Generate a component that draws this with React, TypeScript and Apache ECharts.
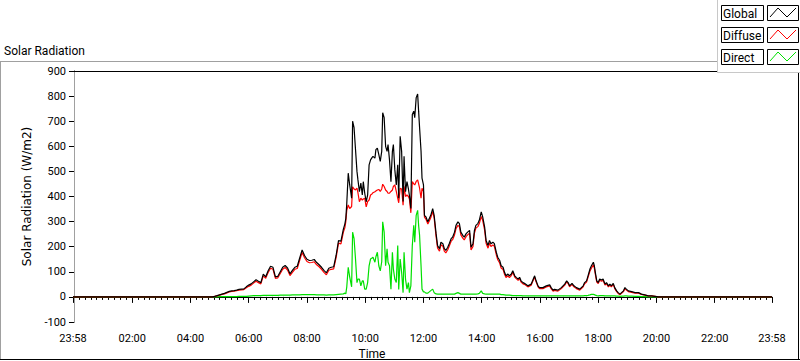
import React, { useEffect, useRef } from "react";
import * as echarts from "echarts";

// ---- data ----
const times = [
  "04:40","04:45","04:50","04:55","05:00","05:05","05:10","05:15","05:20","05:25",
  "05:30","05:35","05:40","05:45","05:50","05:55","06:00","06:05","06:10","06:15",
  "06:20","06:25","06:30","06:35","06:40","06:45","06:50","06:55","07:00","07:05",
  "07:10","07:15","07:20","07:25","07:30","07:35","07:40","07:45","07:50","07:55",
  "08:00","08:05","08:10","08:15","08:20","08:25","08:30","08:35","08:40","08:45",
  "08:50","08:55","09:00","09:05","09:10","09:15","09:18","09:20","09:22","09:25",
  "09:28","09:32","09:34","09:37","09:40","09:43","09:45","09:48","09:51","09:54",
  "09:56","09:59","10:02","10:05","10:08","10:11","10:14","10:16","10:20","10:22",
  "10:25","10:28","10:31","10:34","10:36","10:39","10:42","10:45","10:47","10:50",
  "10:53","10:56","10:58","11:01","11:04","11:07","11:09","11:12","11:15","11:18",
  "11:20","11:23","11:26","11:29","11:31","11:34","11:37","11:40","11:42","11:45",
  "11:48","11:50","11:52","11:55","11:57","12:00","12:02","12:05","12:09","12:12",
  "12:15","12:19","12:22","12:26","12:29","12:33","12:36","12:40","12:43","12:46",
  "12:50","12:53","12:57","13:00","13:04","13:07","13:11","13:14","13:17","13:21",
  "13:24","13:28","13:31","13:35","13:38","13:42","13:45","13:48","13:52","13:55",
  "13:59","14:02","14:06","14:09","14:13","14:16","14:19","14:23","14:26","14:30",
  "14:33","14:37","14:40","14:44","14:47","14:50","14:54","14:57","15:01","15:04",
  "15:08","15:11","15:15","15:18","15:21","15:25","15:28","15:35","15:42","15:49",
  "15:52","15:56","15:59","16:06","16:13","16:20","16:23","16:27","16:30","16:37",
  "16:44","16:51","16:55","16:58","17:01","17:06","17:10","17:15","17:22","17:29",
  "17:32","17:36","17:39","17:43","17:46","17:50","17:52","17:54","17:57","18:00",
  "18:03","18:07","18:10","18:14","18:17","18:21","18:24","18:27","18:31","18:34",
  "18:38","18:41","18:45","18:48","18:52","18:55","18:58","19:02","19:09","19:16",
  "19:23","19:29","19:36","19:43","19:50","19:57","20:04"
];

const globalVals = [
  0,0,2,5,8,11,14,18,22,24,
  25,27,30,31,32,40,47,52,60,68,
  62,57,91,80,104,122,118,80,82,100,
  118,125,115,92,106,118,122,155,187,165,
  150,145,146,149,137,128,118,106,96,114,
  118,120,165,224,222,270,290,312,372,493,
  446,393,700,674,587,500,466,419,453,406,
  459,413,379,406,526,546,555,560,553,587,
  593,567,540,580,734,714,600,580,607,546,
  459,580,607,506,446,526,393,640,580,380,
  560,419,459,430,405,352,727,740,714,794,
  808,740,674,580,473,446,325,319,299,312,
  325,352,325,252,205,192,218,212,192,185,
  198,212,232,238,258,285,299,292,258,245,
  238,252,258,265,198,212,265,285,292,305,
  339,319,278,225,205,225,212,218,212,178,
  158,145,124,118,98,84,91,84,91,104,
  84,78,71,78,64,57,54,44,51,84,
  64,44,37,37,44,48,37,27,30,27,
  37,51,64,57,44,54,44,37,31,44,
  57,64,84,111,124,138,124,98,64,57,
  71,67,71,51,57,44,51,44,54,37,
  24,17,11,17,24,37,31,24,21,17,
  17,11,8,4,4,2,0
];

const diffuseVals = [
  0,0,2,4,7,10,12,16,20,22,
  23,25,27,28,29,36,42,47,55,62,
  57,52,84,74,97,114,110,74,76,93,
  110,117,107,85,98,110,113,146,177,156,
  141,136,137,140,128,120,110,98,88,106,
  110,112,156,214,211,258,275,300,345,366,
  352,360,439,430,426,433,415,379,393,386,
  390,393,359,380,386,406,410,415,419,422,
  426,428,420,430,449,440,426,420,413,413,
  420,426,440,446,420,393,375,433,430,365,
  440,400,406,400,390,335,459,450,446,460,
  466,450,433,393,433,420,318,310,290,302,
  315,340,315,240,195,182,208,202,182,175,
  188,202,222,228,247,272,285,280,247,234,
  227,241,247,254,187,201,254,274,280,292,
  320,305,266,214,194,214,201,207,201,168,
  148,135,115,109,90,77,84,77,85,98,
  79,73,66,73,59,52,50,40,47,79,
  60,40,33,33,40,44,33,23,26,23,
  33,47,60,53,40,50,40,33,27,40,
  52,59,78,103,114,128,115,91,59,53,
  66,62,66,47,53,40,47,40,50,33,
  21,14,9,14,21,33,27,21,18,15,
  15,10,7,4,4,2,0
];

const directVals = [
  0,0,0,0,1,1,1,1,1,1,
  1,1,2,2,2,2,3,4,5,5,
  5,5,6,6,6,6,6,6,6,7,
  7,7,7,7,8,8,8,8,9,9,
  9,9,9,9,8,8,8,8,7,8,
  8,8,9,10,11,12,15,12,40,118,
  80,40,258,232,151,57,71,71,44,64,
  64,31,31,57,124,151,155,158,138,160,
  178,124,104,140,299,258,124,192,138,124,
  31,178,111,71,57,205,30,151,98,17,
  178,71,31,57,17,44,205,285,218,325,
  345,285,245,124,31,20,20,15,15,20,
  25,31,17,12,11,11,11,11,11,11,
  11,11,11,11,11,14,17,14,11,11,
  11,11,11,11,11,11,11,11,12,14,
  24,14,12,11,11,11,11,11,11,11,
  11,11,9,9,8,7,7,7,6,5,
  5,5,5,5,5,4,4,4,4,4,
  4,4,4,4,4,4,4,4,4,4,
  4,4,4,4,4,4,4,4,4,4,
  5,5,6,8,10,10,9,7,5,4,
  5,5,5,4,4,4,4,4,4,4,
  3,3,2,3,3,4,4,3,3,2,
  2,1,1,0,0,0,0
];

const seriesNames = ["Global", "Diffuse", "Direct"];
const seriesColors = ["#000000", "#ff0000", "#00e000"];
const xTickLabels = ["23:58","02:00","04:00","06:00","08:00","10:00","12:00","14:00","16:00","18:00","20:00","22:00","23:58"];
const yMin = -100;
const yMax = 900;
const yStep = 100;
const chartTitle = "Solar Radiation";
const yAxisTitle = "Solar Radiation (W/m2)";
const xAxisTitle = "Time";

// ---- helpers ----
const toMin = (t: string) => {
  const [h, m] = t.split(":").map(Number);
  return h * 60 + m;
};
const xStart = toMin(xTickLabels[0]) - 1440; // 23:58 of the previous day
const xEnd = toMin(xTickLabels[xTickLabels.length - 1]);
const majorTicks = xTickLabels.map((l, i) => (i === 0 ? xStart : toMin(l)));
const minorTicks: number[] = [];
for (let i = 0; i < majorTicks.length - 1; i++) {
  const a = majorTicks[i];
  const b = majorTicks[i + 1];
  for (let k = 1; k < 10; k++) minorTicks.push(a + ((b - a) * k) / 10);
}
const labelFor = (v: number) => {
  const idx = majorTicks.findIndex((t) => Math.abs(t - v) < 0.01);
  return idx >= 0 ? xTickLabels[idx] : "";
};
const build = (vals: number[]) => [
  [xStart, 0],
  ...times.map((t, i) => [toMin(t), vals[i]]),
  [xEnd, 0],
];

const FONT = "Roboto";

export default function App() {
  const ref = useRef<HTMLDivElement>(null);

  useEffect(() => {
    document.body.style.margin = "0";
    if (!ref.current) return;
    const chart = echarts.init(ref.current, undefined, { renderer: "svg" });

    const legendRows = seriesNames.map((name, i) => {
      const y0 = 5 + i * 22;
      return [
        {
          type: "rect",
          z: 101,
          shape: { x: 721.5, y: y0 + 0.5, width: 42, height: 15 },
          style: { fill: "#fff", stroke: "#000", lineWidth: 1 },
        },
        {
          type: "text",
          z: 102,
          x: 723,
          y: y0 + 8.5,
          style: { text: name, fill: "#000", font: `12px ${FONT}`, verticalAlign: "middle", align: "left" },
        },
        {
          type: "rect",
          z: 101,
          shape: { x: 767.5, y: y0 + 0.5, width: 31, height: 15 },
          style: { fill: "#fff", stroke: "#000", lineWidth: 1 },
        },
        {
          type: "polyline",
          z: 102,
          shape: { points: [[770, y0 + 12], [778, y0 + 3], [787, y0 + 12], [796, y0 + 3]] },
          style: { stroke: seriesColors[i], lineWidth: 1, fill: "none" },
        },
      ];
    }).flat();

    const option: any = {
      animation: false,
      backgroundColor: "#fff",
      grid: { left: 73, right: 28, top: 71, bottom: 39, containLabel: false },
      xAxis: [
        {
          type: "value",
          min: xStart,
          max: xEnd,
          position: "bottom",
          axisLine: { show: true, lineStyle: { color: "#000", width: 1 } },
          axisTick: { show: true, length: 6, customValues: majorTicks, lineStyle: { color: "#000" } },
          axisLabel: {
            show: true,
            customValues: majorTicks,
            formatter: (v: number) => labelFor(v),
            color: "#000",
            fontFamily: FONT,
            fontSize: 11,
            margin: 11,
          },
          splitLine: { show: false },
        },
        {
          type: "value",
          min: xStart,
          max: xEnd,
          position: "bottom",
          axisLine: { show: false },
          axisTick: { show: true, length: 3, customValues: minorTicks, lineStyle: { color: "#000" } },
          axisLabel: { show: false },
          splitLine: { show: false },
        },
        {
          type: "value",
          min: xStart,
          max: xEnd,
          position: "top",
          axisLine: { show: true, lineStyle: { color: "#000", width: 1 } },
          axisTick: { show: false },
          axisLabel: { show: false },
          splitLine: { show: false },
        },
      ],
      yAxis: [
        {
          type: "value",
          min: yMin,
          max: yMax,
          interval: yStep,
          position: "left",
          name: yAxisTitle,
          nameLocation: "middle",
          nameRotate: 90,
          nameGap: 40,
          nameTextStyle: { color: "#000", fontFamily: "DejaVu Sans", fontSize: 12 },
          axisLine: { show: true, lineStyle: { color: "#000", width: 1 } },
          axisTick: { show: true, length: 5, lineStyle: { color: "#000" } },
          axisLabel: { color: "#000", fontFamily: FONT, fontSize: 11, margin: 7 },
          splitLine: { show: false },
        },
        {
          type: "value",
          min: yMin,
          max: yMax,
          interval: yStep,
          position: "right",
          axisLine: { show: true, lineStyle: { color: "#a0a0a0", width: 1 } },
          axisTick: { show: false },
          axisLabel: { show: false },
          splitLine: { show: false },
        },
      ],
      series: [2, 1, 0].map((i) => ({
        name: seriesNames[i],
        type: "line",
        xAxisIndex: 0,
        yAxisIndex: 0,
        data: build([globalVals, diffuseVals, directVals][i]),
        showSymbol: false,
        symbol: "none",
        lineStyle: { color: seriesColors[i], width: 1.2 },
        itemStyle: { color: seriesColors[i] },
        z: 3 + (2 - i),
      })),
      graphic: [
        // outer panel frame
        { type: "line", z: 50, shape: { x1: 0, y1: 61.5, x2: 717, y2: 61.5 }, style: { stroke: "#a0a0a0", lineWidth: 1 } },
        { type: "line", z: 50, shape: { x1: 0.5, y1: 61, x2: 0.5, y2: 360 }, style: { stroke: "#a0a0a0", lineWidth: 1 } },
        { type: "line", z: 50, shape: { x1: 0, y1: 359.5, x2: 800, y2: 359.5 }, style: { stroke: "#000", lineWidth: 1 } },
        { type: "line", z: 50, shape: { x1: 798.5, y1: 72, x2: 798.5, y2: 360 }, style: { stroke: "#000", lineWidth: 1 } },
        // title
        {
          type: "text",
          z: 50,
          x: 4,
          y: 51,
          style: { text: chartTitle, fill: "#000", font: `12px ${FONT}`, verticalAlign: "middle", align: "left" },
        },
        // x axis title
        {
          type: "text",
          z: 50,
          x: 372,
          y: 354,
          style: { text: xAxisTitle, fill: "#000", font: `12px ${FONT}`, verticalAlign: "middle", align: "center" },
        },
        // legend panel
        {
          type: "rect",
          z: 100,
          shape: { x: 717, y: 0, width: 83, height: 72 },
          style: { fill: "#fff" },
        },
        { type: "line", z: 100, shape: { x1: 717.5, y1: 0, x2: 717.5, y2: 72 }, style: { stroke: "#c8c8c8", lineWidth: 1 } },
        { type: "line", z: 100, shape: { x1: 717, y1: 72.5, x2: 800, y2: 72.5 }, style: { stroke: "#c8c8c8", lineWidth: 1 } },
        ...legendRows,
      ],
    };

    chart.setOption(option);
    return () => chart.dispose();
  }, []);

  return <div ref={ref} style={{ width: 800, height: 361 }} />;
}
